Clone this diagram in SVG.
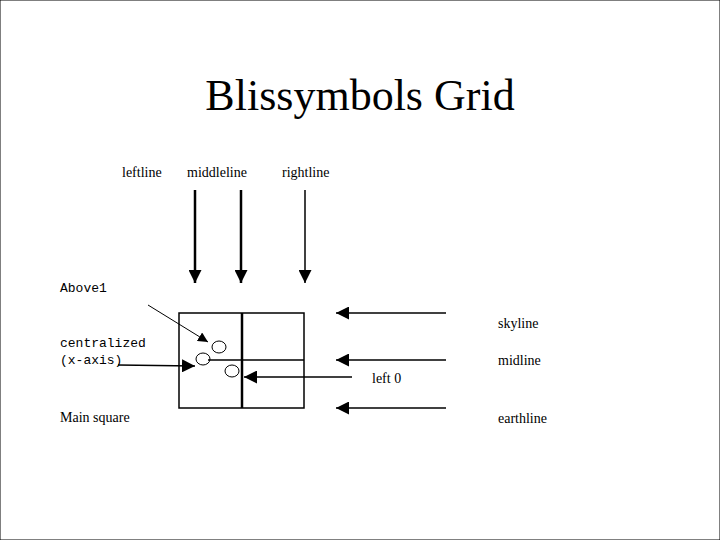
<svg xmlns="http://www.w3.org/2000/svg" width="720" height="540" viewBox="0 0 720 540">
<style>
text{font-family:"Liberation Serif",serif;font-size:14px;fill:#000}
.m{font-family:"Liberation Mono",monospace;font-size:13px}
line,rect,ellipse{stroke:#000;fill:none}
</style>
<defs>
<marker id="a" viewBox="0 0 10 10" refX="10" refY="5" markerWidth="10" markerHeight="10" markerUnits="userSpaceOnUse" orient="auto"><path d="M0,0L10,5L0,10z" fill="#000"/></marker>
<marker id="b" viewBox="0 0 10 10" refX="10" refY="5" markerWidth="13" markerHeight="13" markerUnits="userSpaceOnUse" orient="auto"><path d="M0,0L10,5L0,10z" fill="#000"/></marker>
</defs>
<rect width="720" height="540" fill="#fff" stroke="none"/>
<text x="360" y="110" text-anchor="middle" style="font-size:44px">Blissymbols Grid</text>
<g id="labels">
<text x="122" y="177">leftline</text>
<text x="187" y="177">middleline</text>
<text x="282" y="177">rightline</text>
<text class="m" x="60" y="292">Above1</text>
<text class="m" x="60" y="347">centralized</text>
<text class="m" x="60" y="364">(x-axis)</text>
<text x="60" y="422">Main square</text>
<text x="498" y="328">skyline</text>
<text x="498" y="365">midline</text>
<text x="372" y="383">left 0</text>
<text x="498" y="423">earthline</text>
</g>
<g id="grid">
<rect x="179" y="313" width="125" height="95" stroke-width="1.5"/>
<line x1="242" y1="313" x2="242" y2="408" stroke-width="2.5"/>
<line x1="208" y1="360" x2="304" y2="360" stroke-width="1.5"/>
<ellipse cx="219" cy="347" rx="7" ry="6"/>
<ellipse cx="203" cy="359" rx="7" ry="6"/>
<ellipse cx="232" cy="371" rx="7" ry="6"/>
</g>
<g id="connectors" stroke-width="2">
<line x1="195" y1="190" x2="195" y2="283" stroke-width="2.5" marker-end="url(#b)"/>
<line x1="241" y1="190" x2="241" y2="283" stroke-width="2.5" marker-end="url(#b)"/>
<line x1="305" y1="190" x2="305" y2="283" stroke-width="1.5" marker-end="url(#b)"/>
<line x1="446" y1="313" x2="336" y2="313" stroke-width="1.5" marker-end="url(#b)"/>
<line x1="446" y1="360" x2="336" y2="360" stroke-width="1.5" marker-end="url(#b)"/>
<line x1="446" y1="408" x2="336" y2="408" stroke-width="1.5" marker-end="url(#b)"/>
<line x1="352" y1="377" x2="244" y2="377" stroke-width="1.5" marker-end="url(#b)"/>
<line x1="148" y1="305" x2="208" y2="342" stroke-width="1" marker-end="url(#a)"/>
<line x1="118" y1="365" x2="195" y2="366" stroke-width="1.5" marker-end="url(#b)"/>
</g>
</svg>
